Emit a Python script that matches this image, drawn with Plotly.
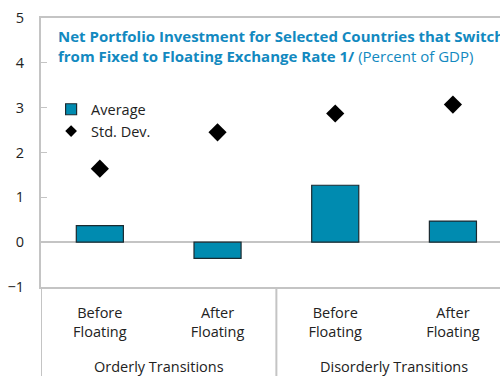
import plotly.graph_objects as go

# Data
groups = ["Orderly Transitions", "Disorderly Transitions"]
phases = ["Before<br>Floating", "After<br>Floating", "Before<br>Floating", "After<br>Floating"]
average = [0.37, -0.36, 1.27, 0.47]
std_dev = [1.64, 2.45, 2.87, 3.07]
y_ticks = [-1, 0, 1, 2, 3, 4, 5]

FONT = "Open Sans, Noto Sans, sans-serif"
BAR = "#008bb0"
TITLE = "#1289c0"
GRID = "#c4c4c4"
TEXT = "#222222"
BAR_EDGE = "#1b2a30"

xs = list(range(len(phases)))

fig = go.Figure()
fig.add_trace(go.Bar(
    x=xs, y=average, name="Average", width=0.4, showlegend=False,
    marker=dict(color=BAR, line=dict(color=BAR_EDGE, width=1.2)),
))
fig.add_trace(go.Scatter(
    x=xs, y=std_dev, name="Std. Dev.", mode="markers", showlegend=False,
    marker=dict(symbol="diamond", size=14, color="black"),
))

# Legend entries with compact symbols
fig.add_trace(go.Scatter(
    x=[None], y=[None], name="Average", mode="markers",
    marker=dict(symbol="square", size=11, color=BAR, line=dict(color=BAR_EDGE, width=1.2)),
))
fig.add_trace(go.Scatter(
    x=[None], y=[None], name="Std. Dev.", mode="markers",
    marker=dict(symbol="diamond", size=9, color="black"),
))

# Vertical dividers between the transition groups, below the axis
for xd in [-0.5, 1.5]:
    fig.add_shape(type="line", xref="x", yref="paper", x0=xd, x1=xd, y0=0, y1=-0.35,
                  line=dict(color=GRID, width=2), layer="below")

# Group labels
for i, g in enumerate(groups):
    fig.add_annotation(x=2 * i + 0.5, xref="x", y=-0.297, yref="paper", text=g,
                       showarrow=False, yanchor="middle",
                       font=dict(family=FONT, size=14.5, color=TEXT))

# Title inside the plot area
fig.add_annotation(
    x=0.033, xref="paper", y=0.979, yref="paper", xanchor="left", yanchor="top",
    align="left", showarrow=False,
    text=("<b>Net Portfolio Investment for Selected Countries that Switch</b><br>"
          "<b>from Fixed to Floating Exchange Rate 1/</b> (Percent of GDP)"),
    font=dict(family=FONT, size=15, color=TITLE),
)

fig.update_layout(
    width=500, height=376,
    margin=dict(l=41, r=0, t=18, b=89),
    paper_bgcolor="white", plot_bgcolor="white",
    font=dict(family=FONT, size=14.5, color=TEXT),
    showlegend=True,
    legend=dict(x=0.022, y=0.72, xanchor="left", yanchor="top",
                bgcolor="rgba(0,0,0,0)", font=dict(size=14.5, color=TEXT),
                itemwidth=30, tracegroupgap=0),
    bargap=0.6,
)
fig.update_xaxes(
    range=[-0.5, 3.4], tickvals=xs, ticktext=phases, ticks="",
    showline=True, linecolor=GRID, linewidth=2, mirror=True,
    showgrid=False, zeroline=False, tickfont=dict(size=14.5, color=TEXT),
    ticklabelstandoff=12,
)
fig.update_yaxes(
    range=[-1, 5], tickvals=y_ticks, ticks="inside", ticklen=6, tickcolor=GRID,
    showline=True, linecolor=GRID, linewidth=2,
    showgrid=False, zeroline=True, zerolinecolor=GRID, zerolinewidth=2,
    tickfont=dict(size=14.5, color=TEXT), ticklabelstandoff=12,
)

fig.write_html("out.html")
